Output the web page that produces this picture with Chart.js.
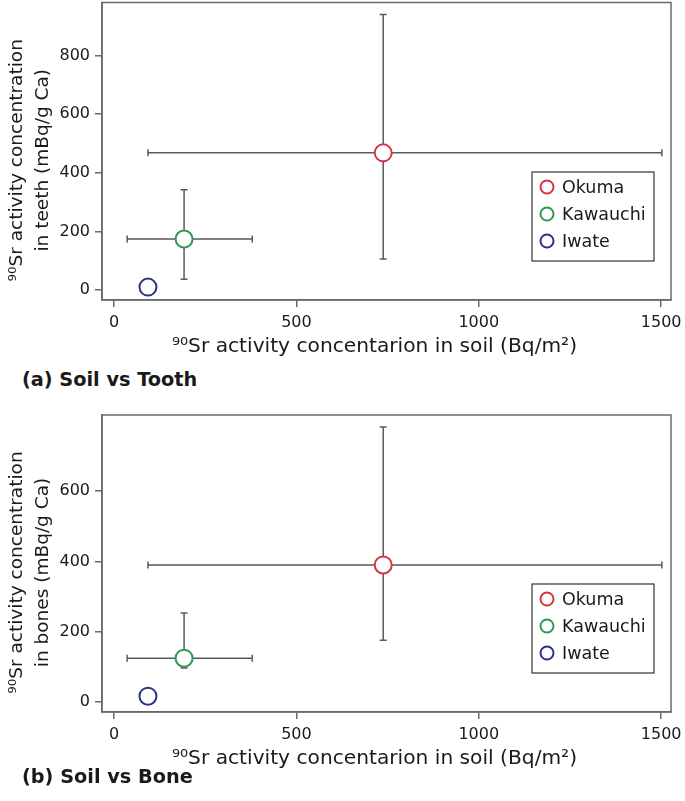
<!DOCTYPE html>
<html>
<head>
<meta charset="utf-8">
<script src="https://cdn.jsdelivr.net/npm/chart.js@4/dist/chart.umd.min.js"></script>
<style>
  html, body { margin: 0; padding: 0; background: #ffffff; }
  body { width: 685px; height: 801px; position: relative; overflow: hidden; font-family: "DejaVu Sans", sans-serif; }
  .wrap { position: absolute; left: 0; width: 685px; }
  .panel { position: absolute; left: 22px; font-weight: bold; font-size: 19.3px; color: #1a1a1a; font-family: "DejaVu Sans", sans-serif; }
</style>
</head>
<body>
<div class="wrap" id="w1" style="top:-8px;height:370px"><canvas id="c1"></canvas></div>
<div class="wrap" id="w2" style="top:400px;height:374px"><canvas id="c2"></canvas></div>
<div class="panel" style="top:368px">(a) Soil vs Tooth</div>
<div class="panel" style="top:765px">(b) Soil vs Bone</div>
<script>
// ---- data ----
const sites = ['Okuma', 'Kawauchi', 'Iwate'];
const siteColors = ['#d8343f', '#2f9a4f', '#2a3388'];
const soilMean = [738, 192, 93];
const soilLow  = [93, 36, null];
const soilHigh = [1502, 379, null];
const toothMean = [468, 174, 10];
const toothLow  = [106, 37, null];
const toothHigh = [940, 342, null];
const boneMean = [390, 125, 17];
const boneLow  = [176, 97, null];
const boneHigh = [782, 253, null];
const xTicks = [0, 500, 1000, 1500];
const yTicksTooth = [0, 200, 400, 600, 800];
const yTicksBone = [0, 200, 400, 600];
const xTitle = '\u2079\u2070Sr activity concentarion in soil (Bq/m\u00B2)';
const yTitleTooth = ['\u2079\u2070Sr activity concentration', 'in teeth (mBq/g Ca)'];
const yTitleBone = ['\u2079\u2070Sr activity concentration', 'in bones (mBq/g Ca)'];

const FONT = '"DejaVu Sans", sans-serif';
const AXIS = '#6a6a6a';
const BAR = '#5a5a5a';
const TEXT = '#1a1a1a';

const frameAndErrors = {
  id: 'frameAndErrors',
  beforeDatasetsDraw(chart, args, opts) {
    const ctx = chart.ctx, xs = chart.scales.x, ys = chart.scales.y;
    ctx.save();
    ctx.strokeStyle = BAR;
    ctx.lineWidth = 1.5;
    for (let i = 0; i < opts.xm.length; i++) {
      const px = xs.getPixelForValue(opts.xm[i]);
      const py = ys.getPixelForValue(opts.ym[i]);
      if (opts.xl[i] != null) {
        const a = xs.getPixelForValue(opts.xl[i]), b = xs.getPixelForValue(opts.xh[i]);
        ctx.beginPath();
        ctx.moveTo(a, py); ctx.lineTo(b, py);
        ctx.moveTo(a, py - 3.5); ctx.lineTo(a, py + 3.5);
        ctx.moveTo(b, py - 3.5); ctx.lineTo(b, py + 3.5);
        ctx.stroke();
      }
      if (opts.yl[i] != null) {
        const a = ys.getPixelForValue(opts.yl[i]), b = ys.getPixelForValue(opts.yh[i]);
        ctx.beginPath();
        ctx.moveTo(px, a); ctx.lineTo(px, b);
        ctx.moveTo(px - 3.5, a); ctx.lineTo(px + 3.5, a);
        ctx.moveTo(px - 3.5, b); ctx.lineTo(px + 3.5, b);
        ctx.stroke();
      }
    }
    ctx.restore();
  },
  afterDraw(chart, args, opts) {
    const ctx = chart.ctx, a = chart.chartArea;
    ctx.save();
    ctx.strokeStyle = AXIS;
    ctx.lineWidth = 1.5;
    ctx.strokeRect(a.left, a.top, a.right - a.left, a.bottom - a.top);

    // axis titles
    ctx.fillStyle = TEXT;
    ctx.textAlign = 'center';
    ctx.textBaseline = 'middle';
    ctx.font = '20.2px ' + FONT;
    ctx.fillText(opts.xTitle, (a.left + a.right) / 2 - 12, a.bottom + 47);
    ctx.save();
    ctx.translate(0, (a.top + a.bottom) / 2 + 9);
    ctx.rotate(-Math.PI / 2);
    ctx.font = '18.5px ' + FONT;
    opts.yTitle.forEach((line, i) => ctx.fillText(line, 0, 17 + i * 26.5));
    ctx.restore();

    // legend box
    const bw = 122, bh = 89;
    const bx = a.right - 17 - bw, by = a.bottom - 39 - bh;
    ctx.strokeStyle = '#333333';
    ctx.lineWidth = 1.2;
    ctx.fillStyle = '#ffffff';
    ctx.fillRect(bx, by, bw, bh);
    ctx.strokeRect(bx, by, bw, bh);
    ctx.font = '17.5px ' + FONT;
    ctx.textBaseline = 'middle';
    ctx.textAlign = 'left';
    chart.data.datasets.forEach((ds, i) => {
      const cy = by + 15 + i * 27;
      ctx.beginPath();
      ctx.arc(bx + 15, cy, 6.5, 0, Math.PI * 2);
      ctx.strokeStyle = ds.borderColor;
      ctx.lineWidth = 2;
      ctx.stroke();
      ctx.fillStyle = TEXT;
      ctx.fillText(ds.label, bx + 30, cy + 1);
    });
    ctx.restore();
  }
};

function makeChart(id, yMean, yLow, yHigh, yMin, yMax, yTicks, yTitle, padTop) {
  const datasets = sites.map((s, i) => ({
    label: s,
    data: [{ x: soilMean[i], y: yMean[i] }],
    borderColor: siteColors[i],
    backgroundColor: '#ffffff',
    pointRadius: 8.5,
    pointHoverRadius: 8.5,
    pointBorderWidth: 2,
    pointStyle: 'circle'
  }));
  return new Chart(document.getElementById(id), {
    type: 'scatter',
    data: { datasets },
    options: {
      responsive: true,
      maintainAspectRatio: false,
      animation: false,
      events: [],
      layout: { padding: { top: padTop, right: 14, left: 0, bottom: 0 } },
      plugins: {
        legend: { display: false },
        tooltip: { enabled: false },
        frameAndErrors: { xm: soilMean, xl: soilLow, xh: soilHigh, ym: yMean, yl: yLow, yh: yHigh, xTitle: xTitle, yTitle: yTitle }
      },
      scales: {
        x: {
          type: 'linear', min: -33, max: 1527,
          afterBuildTicks: sc => { sc.ticks = xTicks.map(v => ({ value: v })); },
          afterFit: sc => { sc.height = 62; sc.paddingLeft = 0; sc.paddingRight = 0; },
          grid: { drawOnChartArea: false, drawTicks: true, tickLength: 7, color: AXIS, lineWidth: 1.5 },
          border: { display: true, color: AXIS, width: 1.5 },
          ticks: { color: TEXT, font: { family: FONT, size: 16 }, padding: 6, maxRotation: 0, callback: v => String(v) },
          title: { display: false }
        },
        y: {
          type: 'linear', min: yMin, max: yMax,
          afterBuildTicks: sc => { sc.ticks = yTicks.map(v => ({ value: v })); },
          afterFit: sc => { sc.width = 102; sc.paddingTop = 0; sc.paddingBottom = 0; },
          grid: { drawOnChartArea: false, drawTicks: true, tickLength: 7, color: AXIS, lineWidth: 1.5 },
          border: { display: true, color: AXIS, width: 1.5 },
          ticks: { color: TEXT, font: { family: FONT, size: 16 }, padding: 5, callback: v => String(v) },
          title: { display: false }
        }
      }
    },
    plugins: [frameAndErrors]
  });
}

makeChart('c1', toothMean, toothLow, toothHigh, -34, 981, yTicksTooth, yTitleTooth, 3);
makeChart('c2', boneMean, boneLow, boneHigh, -28, 816, yTicksBone, yTitleBone, 15);
</script>
</body>
</html>
